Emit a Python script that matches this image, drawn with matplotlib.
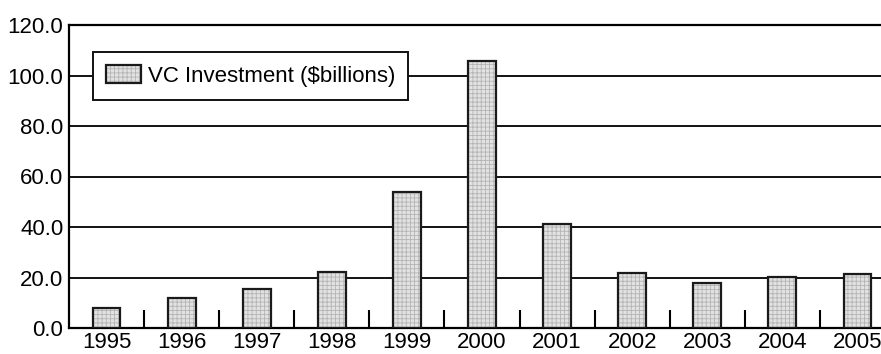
import numpy as np
import matplotlib
matplotlib.use('Agg')
import matplotlib.pyplot as plt
from matplotlib.ticker import FixedLocator, FormatStrFormatter

years = ['1995', '1996', '1997', '1998', '1999', '2000',
         '2001', '2002', '2003', '2004', '2005']
vc_investment = [8.0, 11.8, 15.6, 22.0, 53.7, 105.7, 41.0, 21.9, 17.7, 20.1, 21.4]
series_label = 'VC Investment ($billions)'

plt.rcParams['font.family'] = ['Liberation Sans', 'DejaVu Sans']
plt.rcParams['font.size'] = 16
plt.rcParams['hatch.linewidth'] = 0.6

fig = plt.figure(figsize=(8.81, 3.54), dpi=100)
ax = fig.add_axes([69 / 881, 26 / 354, 826 / 881, 303 / 354])

x = np.arange(len(years))

# dotted fill underneath, black outline on top
fill = ax.bar(x, vc_investment, width=0.37, color='#e2e2e2', hatch='++++',
              edgecolor='#b4b4b4', linewidth=0, zorder=3)
outline = ax.bar(x, vc_investment, width=0.37, facecolor='none',
                 edgecolor='#1a1a1a', linewidth=1.6, zorder=4)

ax.set_xlim(-0.5, 10.5)
ax.set_ylim(0, 120)
ax.set_yticks(np.arange(0, 121, 20))
ax.yaxis.set_major_formatter(FormatStrFormatter('%.1f'))
ax.set_xticks(x)
ax.set_xticklabels(years)
ax.xaxis.set_minor_locator(FixedLocator(x[:-1] + 0.5))

ax.tick_params(axis='x', which='major', length=0, pad=3)
ax.tick_params(axis='x', which='minor', direction='in', length=13, width=1.5)
ax.tick_params(axis='y', length=0, pad=4)

ax.grid(axis='y', color='#111111', linewidth=1.4, zorder=1)
ax.set_axisbelow(True)
for side in ['left', 'bottom', 'top']:
    ax.spines[side].set_linewidth(1.6)
ax.spines['right'].set_visible(False)

leg = ax.legend([(fill[0], outline[0])], [series_label],
                loc='upper left', bbox_to_anchor=(0.029, 0.911),
                borderaxespad=0, fancybox=False, framealpha=1,
                edgecolor='#111111', handlelength=1.58, handleheight=0.9,
                handletextpad=0.32, borderpad=0.58, fontsize=16)
leg.get_frame().set_linewidth(1.4)
leg.set_zorder(5)

fig.savefig('out.png', dpi=100)
